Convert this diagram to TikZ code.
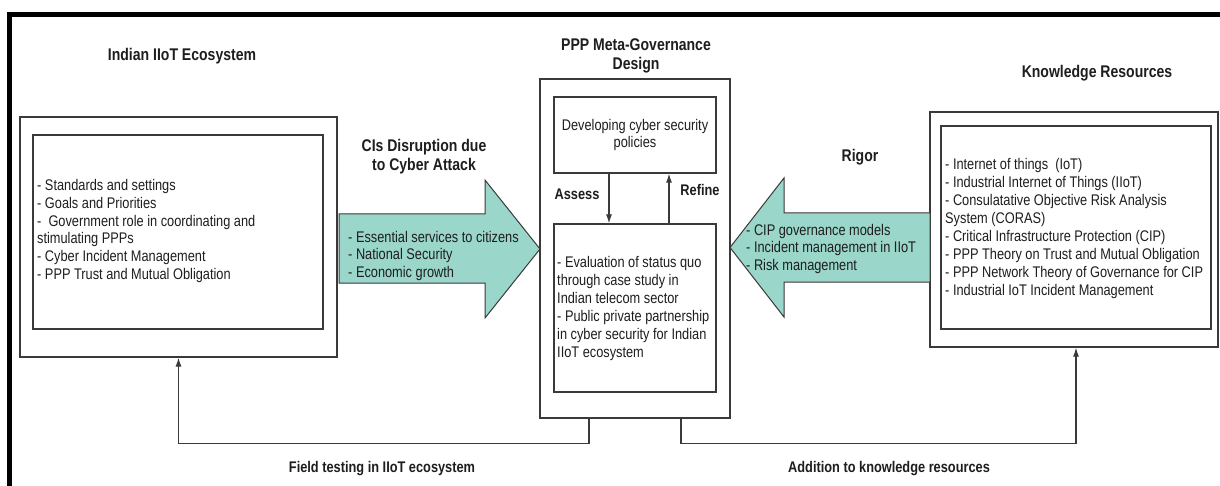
\documentclass[tikz,border=0pt]{standalone}
\usepackage{fontspec}
\setmainfont{Liberation Sans}[FakeStretch=0.83]
\usetikzlibrary{arrows.meta}
\definecolor{flowfill}{RGB}{154,214,202}
\definecolor{edge}{RGB}{58,58,58}
\definecolor{ink}{RGB}{30,30,30}
\tikzset{
  box/.style={draw=edge, line width=1.2pt, inner sep=0pt},
  body/.style={font=\fontsize{15.4}{17.9}\selectfont, text=ink, align=left, inner sep=0pt, anchor=west},
  head/.style={font=\fontsize{16.9}{19}\selectfont\bfseries, text=ink, align=center, inner sep=0pt},
  lbl/.style={font=\fontsize{15.4}{18}\selectfont\bfseries, text=ink, inner sep=0pt},
  link/.style={draw=edge, line width=1.2pt},
  arr/.style={link, -{Latex[length=9pt,width=6pt]}},
  flow/.style={fill=flowfill, draw=edge, line width=1pt, line join=miter},
  frame/.style={draw=black, line width=5pt}
}
\begin{document}
\begin{tikzpicture}[x=1pt,y=-1pt]
\useasboundingbox (0,0) rectangle (1220,486);
\fill[white] (0,0) rectangle (1220,486);

% outer frame (top and left edges)
\draw[frame] (9.5,500) -- (9.5,15) -- (1230,15);

% titles
\node[head] (tIndian) at (182,56) {Indian IIoT Ecosystem};
\node[head] (tMeta) at (636,55.5) {PPP Meta-Governance\\Design};
\node[head] (tKnow) at (1097,73) {Knowledge Resources};
\node[head] (tCIs) at (424,156.5) {CIs Disruption due\\to Cyber Attack};
\node[head] (tRigor) at (860,157) {Rigor};

% left block
\node[box, minimum width=317pt, minimum height=240pt] (lout) at (178.5,237) {};
\node[box, minimum width=290pt, minimum height=194pt] (lin) at (178,232) {};
\node[body] (ltext) at (37,231) {- Standards and settings\\- Goals and Priorities\\-\ \ Government role in coordinating and\\stimulating PPPs\\- Cyber Incident Management\\- PPP Trust and Mutual Obligation};

% middle block
\node[box, minimum width=190pt, minimum height=339pt] (mout) at (635,248.5) {};
\node[box, minimum width=162pt, minimum height=76pt] (mtop) at (635,135) {};
\node[body, anchor=center, align=center] (mtoptext) at (635,135) {Developing cyber security\\policies};
\node[box, minimum width=162pt, minimum height=168pt] (mbot) at (635,308) {};
\node[body] (mbottext) at (557,308.5) {- Evaluation of status quo\\through case study in\\Indian telecom sector\\- Public private partnership\\in cyber security for Indian\\IIoT ecosystem};

\coordinate (assessx) at (609,0);
\coordinate (refinex) at (669,0);
\draw[arr] (mtop.south -| assessx) -- (mbot.north -| assessx);
\draw[arr] (mbot.north -| refinex) -- (mtop.south -| refinex);
\node[lbl] (lAssess) at (577,194) {Assess};
\node[lbl] (lRefine) at (700,190) {Refine};

% right block
\node[box, minimum width=288pt, minimum height=235pt] (rout) at (1074,229.5) {};
\node[box, minimum width=270pt, minimum height=203pt] (rin) at (1076,227.5) {};
\node[body] (rtext) at (945,228.5) {- Internet of things\ \ (IoT)\\- Industrial Internet of Things (IIoT)\\- Consulatative Objective Risk Analysis\\System (CORAS)\\- Critical Infrastructure Protection (CIP)\\- PPP Theory on Trust and Mutual Obligation\\- PPP Network Theory of Governance for CIP\\- Industrial IoT Incident Management};

% broad flow arrows
\draw[flow] (339,214) -- (485,214) -- (485,180) -- (540,249) -- (485,318) -- (485,283) -- (339,283) -- cycle;
\node[body] (ftext) at (348,256) {- Essential services to citizens\\- National Security\\- Economic growth};
\draw[flow] (930,213) -- (784,213) -- (784,178) -- (730,247.5) -- (784,317) -- (784,282) -- (930,282) -- cycle;
\node[body] (rgtext) at (746,249) {- CIP governance models\\- Incident management in IIoT\\- Risk management};

% feedback connectors
\draw[arr] ([xshift=-46pt]mout.south) -- ++(0,25) -| (lout.south);
\draw[arr] ([xshift=46pt]mout.south) -- ++(0,25) -| ([xshift=2pt]rout.south);
\node[lbl] (lField) at (382,469) {Field testing in IIoT ecosystem};
\node[lbl] (lAdd) at (889,469) {Addition to knowledge resources};
\end{tikzpicture}
\end{document}
